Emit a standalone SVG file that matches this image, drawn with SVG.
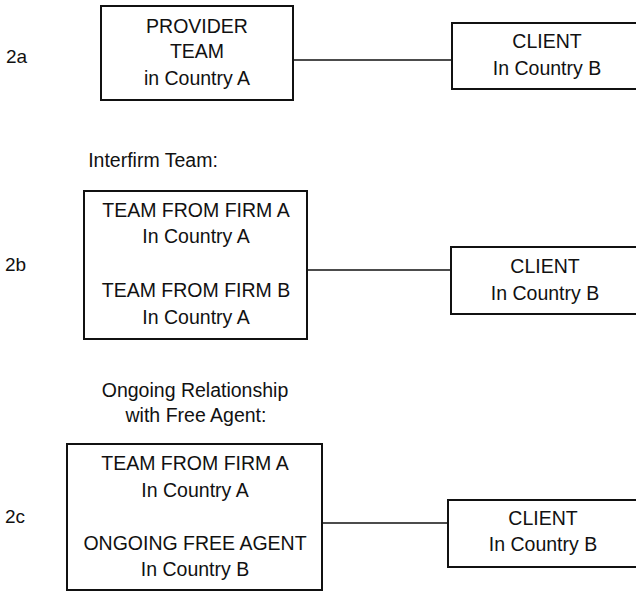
<svg xmlns="http://www.w3.org/2000/svg" width="636" height="592" viewBox="0 0 636 592">
<style>
.box{fill:#fff;stroke:#111;stroke-width:2}
.t{font-family:"Liberation Sans",Arial,sans-serif;font-size:19.5px;fill:#111;text-anchor:middle}
.lbl{font-family:"Liberation Sans",Arial,sans-serif;font-size:19px;fill:#111}
.con{stroke:#111;stroke-width:1.5;fill:none}
</style>
<rect width="636" height="592" fill="#fff"/>
<g id="connectors">
<line class="con" x1="293" y1="60" x2="454" y2="60"/>
<line class="con" x1="307" y1="270" x2="452" y2="270"/>
<line class="con" x1="322" y1="523" x2="449" y2="523"/>
</g>
<g id="labels">
<text class="lbl" x="6" y="63">2a</text>
<text class="lbl" x="5" y="271">2b</text>
<text class="lbl" x="5" y="523">2c</text>
<text class="t" x="153" y="167">Interfirm Team:</text>
<text class="t" x="195" y="397">Ongoing Relationship</text>
<text class="t" x="196" y="422">with Free Agent:</text>
</g>
<g id="provider-2a">
<rect class="box" x="101" y="6" width="192" height="94"/>
<text class="t" x="197" y="33">PROVIDER</text>
<text class="t" x="197" y="58">TEAM</text>
<text class="t" x="197" y="85">in Country A</text>
</g>
<g id="client-2a">
<rect class="box" x="452" y="23" width="200" height="66"/>
<text class="t" x="547" y="48">CLIENT</text>
<text class="t" x="547" y="75">In Country B</text>
</g>
<g id="team-2b">
<rect class="box" x="84" y="191" width="223" height="148"/>
<text class="t" x="196" y="217">TEAM FROM FIRM A</text>
<text class="t" x="196" y="243">In Country A</text>
<text class="t" x="196" y="297">TEAM FROM FIRM B</text>
<text class="t" x="196" y="324">In Country A</text>
</g>
<g id="client-2b">
<rect class="box" x="451" y="247" width="200" height="67"/>
<text class="t" x="545" y="273">CLIENT</text>
<text class="t" x="545" y="300">In Country B</text>
</g>
<g id="team-2c">
<rect class="box" x="67" y="444" width="255" height="146"/>
<text class="t" x="195" y="470">TEAM FROM FIRM A</text>
<text class="t" x="195" y="497">In Country A</text>
<text class="t" x="195" y="550">ONGOING FREE AGENT</text>
<text class="t" x="195" y="576">In Country B</text>
</g>
<g id="client-2c">
<rect class="box" x="448" y="500" width="200" height="67"/>
<text class="t" x="543" y="525">CLIENT</text>
<text class="t" x="543" y="551">In Country B</text>
</g>
</svg>
